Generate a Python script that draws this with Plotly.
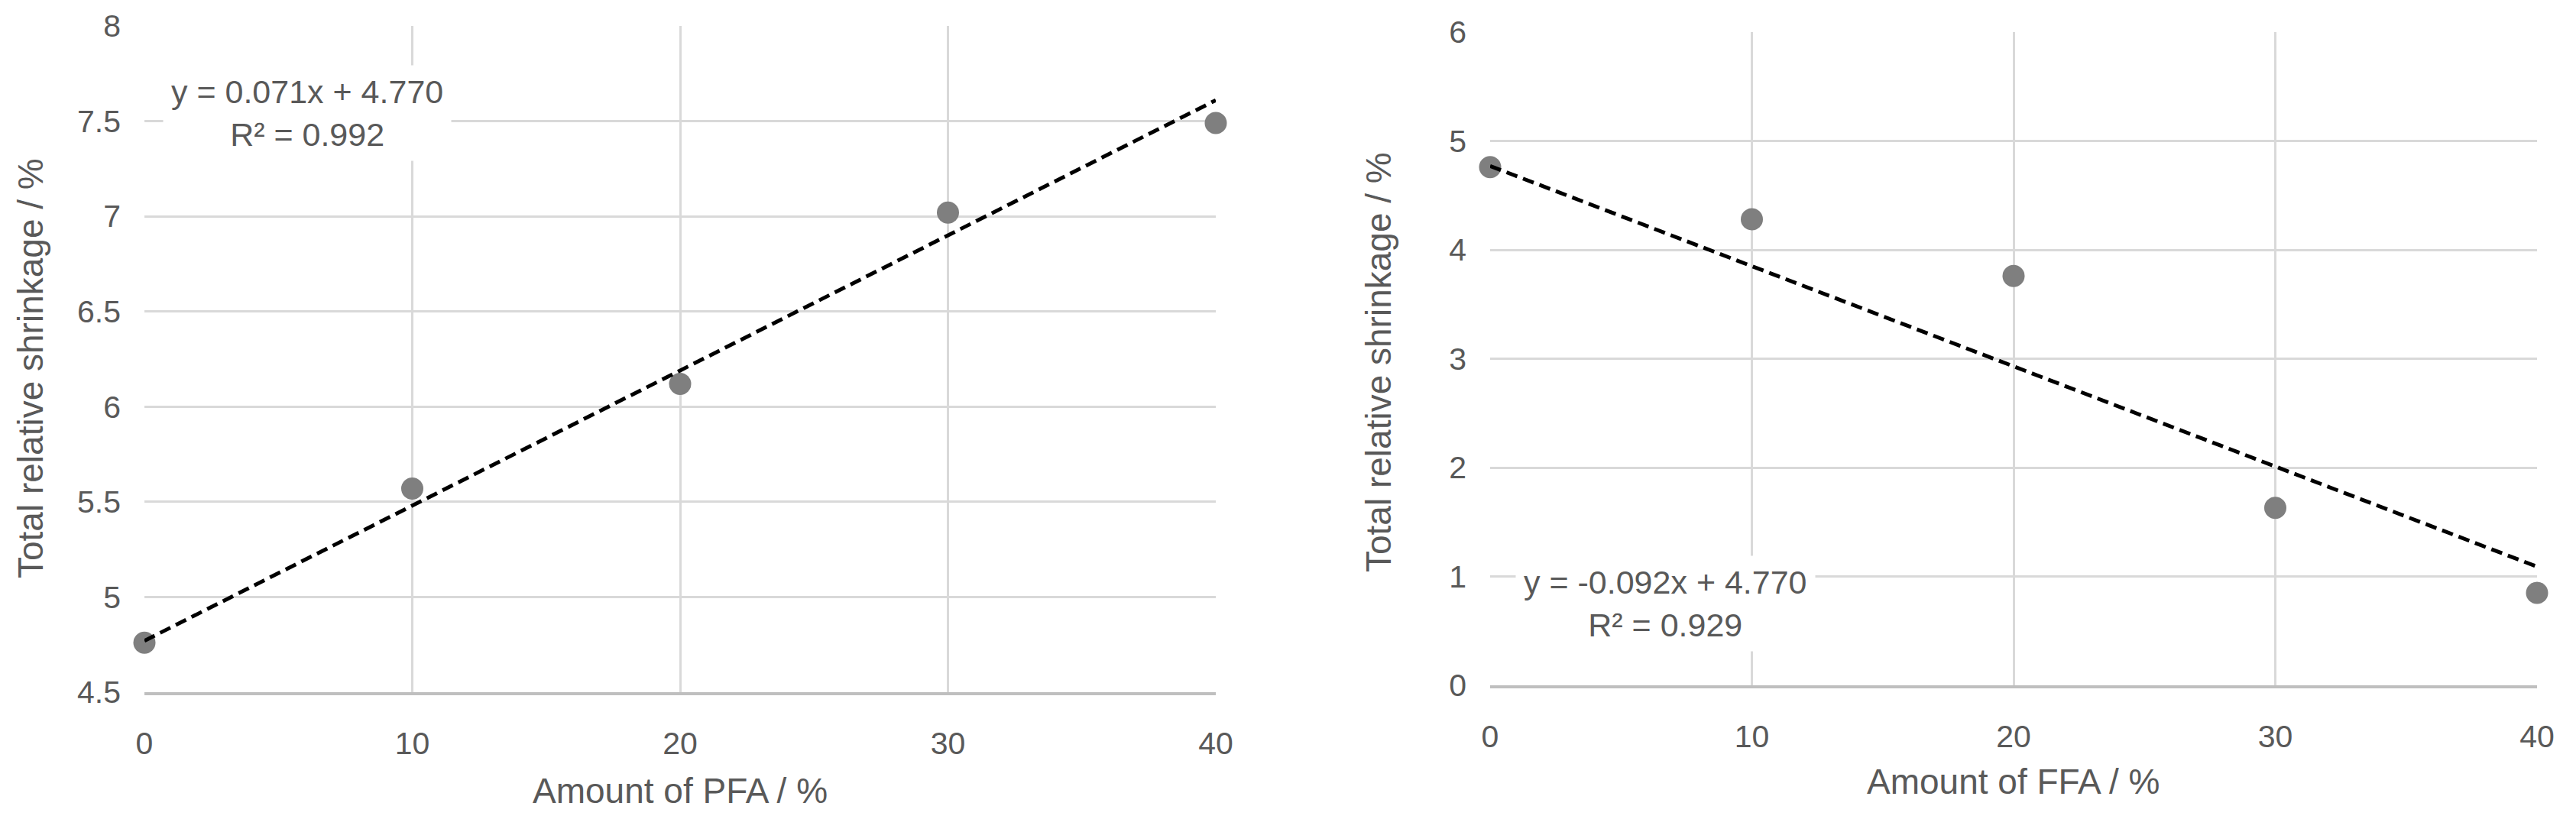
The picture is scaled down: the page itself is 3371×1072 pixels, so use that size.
import plotly.graph_objects as go

# ---- data ----
amount = [0, 10, 20, 30, 40]
pfa_shrinkage = [4.76, 5.57, 6.12, 7.02, 7.49]
ffa_shrinkage = [4.76, 4.28, 3.76, 1.63, 0.85]

pfa_slope, pfa_intercept, pfa_r2 = 0.071, 4.770, 0.992
ffa_slope, ffa_intercept, ffa_r2 = -0.092, 4.770, 0.929

x_ticks = [0, 10, 20, 30, 40]
pfa_y_ticks = [4.5, 5, 5.5, 6, 6.5, 7, 7.5, 8]
ffa_y_ticks = [0, 1, 2, 3, 4, 5, 6]

W, H = 3371, 1072
OFF = 8  # page body margin compensation
FONT = "Liberation Sans, Arial, sans-serif"
TXT = "#595959"
GRID = "#d9d9d9"
MARK = "#7f7f7f"

def px(x):
    return (x - OFF) / W

def py(y):
    return 1 - (y - OFF) / H

fig = go.Figure()

trend_x = [amount[0], amount[-1]]

# left panel
fig.add_trace(go.Scatter(x=amount, y=pfa_shrinkage, mode="markers",
                         marker=dict(color=MARK, size=29), cliponaxis=False,
                         xaxis="x", yaxis="y", showlegend=False))
fig.add_trace(go.Scatter(x=trend_x, y=[pfa_intercept + pfa_slope * v for v in trend_x],
                         mode="lines", line=dict(color="black", width=5, dash="15px,8px"),
                         cliponaxis=False, xaxis="x", yaxis="y", showlegend=False))
# right panel
fig.add_trace(go.Scatter(x=amount, y=ffa_shrinkage, mode="markers",
                         marker=dict(color=MARK, size=29), cliponaxis=False,
                         xaxis="x2", yaxis="y2", showlegend=False))
fig.add_trace(go.Scatter(x=trend_x, y=[ffa_intercept + ffa_slope * v for v in trend_x],
                         mode="lines", line=dict(color="black", width=5, dash="15px,8px"),
                         cliponaxis=False, xaxis="x2", yaxis="y2", showlegend=False))

xcommon = dict(range=[0, 40], tickvals=x_ticks, showgrid=True, gridcolor=GRID, gridwidth=3,
               zeroline=False, showline=True, linecolor="#bfbfbf", linewidth=4,
               ticks="", ticklabelstandoff=28, tickfont=dict(family=FONT, size=41, color=TXT),
               fixedrange=True, automargin=False)
ycommon = dict(showgrid=True, gridcolor=GRID, gridwidth=3, zeroline=False, showline=False,
               ticks="", ticklabelstandoff=30, tickfont=dict(family=FONT, size=41, color=TXT),
               fixedrange=True, automargin=False)

fig.update_layout(
    template="none",
    width=W, height=H, autosize=False,
    margin=dict(l=0, r=0, t=0, b=0, pad=0, autoexpand=False),
    paper_bgcolor="white", plot_bgcolor="white",
    showlegend=False,
    xaxis=dict(domain=[px(189), px(1591)], anchor="y", **xcommon),
    yaxis=dict(domain=[py(906), py(34)], anchor="x", range=[4.5, 8], tickvals=pfa_y_ticks, **ycommon),
    xaxis2=dict(domain=[px(1950), px(3320)], anchor="y2", **xcommon),
    yaxis2=dict(domain=[py(897), py(42)], anchor="x2", range=[0, 6], tickvals=ffa_y_ticks, **ycommon),
    font=dict(family=FONT, color=TXT),
)

annots = [
    dict(text=f"y = {pfa_slope:.3f}x + {pfa_intercept:.3f}<br>R² = {pfa_r2:.3f}",
         x=6.08, y=7.544, xref="x", yref="y", showarrow=False, align="center",
         xanchor="center", yanchor="middle", bgcolor="white", borderpad=10,
         font=dict(family=FONT, size=43, color=TXT)),
    dict(text=f"y = {ffa_slope:.3f}x + {ffa_intercept:.3f}<br>R² = {ffa_r2:.3f}",
         x=6.69, y=0.75, xref="x2", yref="y2", showarrow=False, align="center",
         xanchor="center", yanchor="middle", bgcolor="white", borderpad=10,
         font=dict(family=FONT, size=43, color=TXT)),
    dict(text="Amount of PFA / %", x=px(890), y=py(1035), xref="paper", yref="paper",
         showarrow=False, xanchor="center", yanchor="middle",
         font=dict(family=FONT, size=46, color=TXT)),
    dict(text="Amount of FFA / %", x=px(2635), y=py(1023), xref="paper", yref="paper",
         showarrow=False, xanchor="center", yanchor="middle",
         font=dict(family=FONT, size=46, color=TXT)),
    dict(text="Total relative shrinkage / %", x=px(40), y=py(482), xref="paper", yref="paper",
         showarrow=False, xanchor="center", yanchor="middle", textangle=-90,
         font=dict(family=FONT, size=46, color=TXT)),
    dict(text="Total relative shrinkage / %", x=px(1804), y=py(474), xref="paper", yref="paper",
         showarrow=False, xanchor="center", yanchor="middle", textangle=-90,
         font=dict(family=FONT, size=46, color=TXT)),
]
fig.update_layout(annotations=annots)

fig.write_html("out.html", config={"displayModeBar": False})
